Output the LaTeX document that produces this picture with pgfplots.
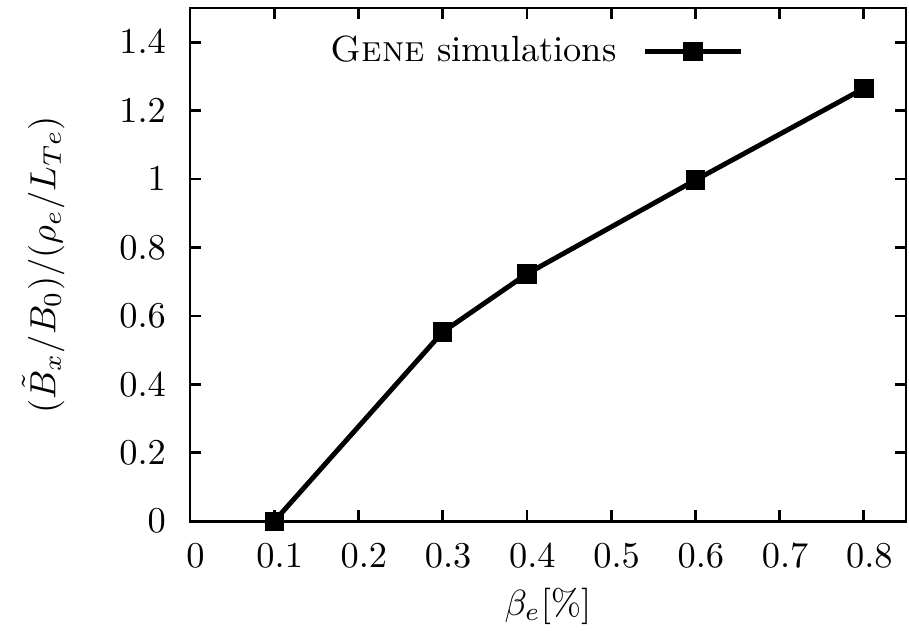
\documentclass[border=0pt]{standalone}
\usepackage{pgfplots}
\pgfplotsset{compat=1.18}
\usetikzlibrary{calc}
\begin{document}
\begin{tikzpicture}
\begin{axis}[
  scale only axis,
  width=196.7pt, height=141pt,
  xmin=0, xmax=0.85, ymin=0, ymax=1.5,
  xtick={0,0.1,0.2,0.3,0.4,0.5,0.6,0.7,0.8},
  ytick={0,0.2,0.4,0.6,0.8,1,1.2,1.4},
  tick pos=both, tick align=inside, major tick length=3pt,
  axis line style={line width=0.77pt},
  every tick/.style={line width=0.77pt, black},
  xticklabel style={yshift=-2.8pt, xshift=1.5pt},
  yticklabel style={xshift=-3.1pt},
  xlabel={$\beta_e[\%]$},
  ylabel={$(\tilde{B}_x/B_0)/(\rho_e/L_{Te})$},
  xlabel style={at={(axis description cs:0.5,-0.165)}, anchor=center},
  ylabel style={at={(axis description cs:-0.205,0.5)}, anchor=center},
  legend style={at={(axis cs:0.6576,1.373)}, anchor=east, draw=none, fill=none, inner sep=0pt, column sep=5.3pt},
  legend plot pos=right,
  legend cell align=right,
  legend image code/.code={\draw[mark repeat=2,mark phase=2] plot coordinates {(0cm,0cm)(0.46cm,0cm)(0.92cm,0cm)};},
]
\addplot[black, line width=1.35pt, mark=square*, mark size=2pt, mark options={solid}] coordinates {
  (0.1,0) (0.3,0.553) (0.4,0.723) (0.6,0.997) (0.8,1.265)
};
\addlegendentry{\textsc{Gene} simulations}
\end{axis}
\pgfresetboundingbox
\path[use as bounding box] ($(current axis.south west)+(-52.2pt,-29.9pt)$) rectangle ($(current axis.north east)+(0.83pt,2.2pt)$);
\end{tikzpicture}
\end{document}
